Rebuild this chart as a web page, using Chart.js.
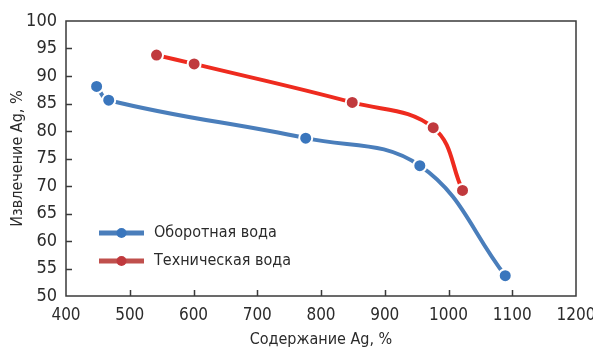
<!DOCTYPE html>
<html lang="ru">
<head>
<meta charset="UTF-8">
<title>Извлечение Ag</title>
<script src="https://cdn.jsdelivr.net/npm/chart.js"></script>
<style>
    html, body { margin: 0; padding: 0; background: #fff; }
    #wrap { width: 593px; height: 349px; }
</style>
</head>
<body>
<div id="wrap"><canvas id="chart"></canvas></div>
<script>
// Оборотная вода
const recycledX = [448, 467, 776, 955, 1089];
const recycledY = [88.1, 85.6, 78.7, 73.7, 53.7];
// Техническая вода
const processX = [542, 601, 849, 976, 1022];
const processY = [93.8, 92.2, 85.2, 80.6, 69.2];

const seriesNames = ['Оборотная вода', 'Техническая вода'];
const xTicks = [400, 500, 600, 700, 800, 900, 1000, 1100, 1200];
const yTicks = [50, 55, 60, 65, 70, 75, 80, 85, 90, 95, 100];

const FONT = '"DejaVu Sans Condensed", "Liberation Sans Narrow", "Roboto", sans-serif';
const TEXT = '#2b2b2b';

function pts(xs, ys) {
    return xs.map((x, i) => ({ x: x, y: ys[i] }));
}

// frame + inward ticks
const framePlugin = {
    id: 'frame',
    afterDraw(chart) {
        const ctx = chart.ctx, a = chart.chartArea;
        const xs = chart.scales.x, ys = chart.scales.y;
        ctx.save();
        ctx.strokeStyle = '#3a3a3a';
        ctx.lineWidth = 1.5;
        ctx.strokeRect(a.left, a.top, a.right - a.left, a.bottom - a.top);
        ctx.beginPath();
        xTicks.slice(1, -1).forEach(v => {
            const px = Math.round(xs.getPixelForValue(v)) + 0.5;
            ctx.moveTo(px, a.bottom);
            ctx.lineTo(px, a.bottom - 6);
        });
        yTicks.slice(1, -1).forEach(v => {
            const py = Math.round(ys.getPixelForValue(v)) + 0.5;
            ctx.moveTo(a.left, py);
            ctx.lineTo(a.left + 6, py);
        });
        ctx.stroke();
        ctx.restore();
    }
};

// legend inside the plot
const legendPlugin = {
    id: 'innerLegend',
    afterDraw(chart) {
        const ctx = chart.ctx, a = chart.chartArea;
        const colors = [['#4a7ebb', '#3a76bd'], ['#c0504d', '#c0393d']];
        ctx.save();
        seriesNames.forEach((name, i) => {
            const y = a.top + 212 + i * 28;
            const x0 = a.left + 33, x1 = a.left + 78;
            ctx.strokeStyle = colors[i][0];
            ctx.lineWidth = 5;
            ctx.beginPath();
            ctx.moveTo(x0, y);
            ctx.lineTo(x1, y);
            ctx.stroke();
            ctx.fillStyle = colors[i][1];
            ctx.beginPath();
            ctx.arc((x0 + x1) / 2, y, 5, 0, Math.PI * 2);
            ctx.fill();
            ctx.fillStyle = TEXT;
            ctx.font = '16px ' + FONT;
            ctx.textBaseline = 'middle';
            ctx.fillText(name, x1 + 10, y);
        });
        ctx.restore();
    }
};

new Chart(document.getElementById('chart'), {
    type: 'line',
    data: {
        datasets: [{
            label: seriesNames[0],
            data: pts(recycledX, recycledY),
            borderColor: '#4a7ebb',
            borderWidth: 4,
            backgroundColor: '#3a76bd',
            pointBackgroundColor: '#3a76bd',
            pointBorderColor: '#ffffff',
            pointBorderWidth: 2,
            pointRadius: 6.5,
            tension: 0.4
        }, {
            label: seriesNames[1],
            data: pts(processX, processY),
            borderColor: '#ee2b1f',
            borderWidth: 4,
            backgroundColor: '#c0393d',
            pointBackgroundColor: '#c0393d',
            pointBorderColor: '#ffffff',
            pointBorderWidth: 2,
            pointRadius: 6.5,
            tension: 0.4
        }]
    },
    options: {
        responsive: true,
        maintainAspectRatio: false,
        animation: false,
        layout: { padding: { top: 21, right: 17, left: 0, bottom: 0 } },
        plugins: {
            legend: { display: false },
            tooltip: { enabled: false }
        },
        scales: {
            x: {
                type: 'linear',
                min: 400, max: 1200,
                afterBuildTicks: s => { s.ticks = xTicks.map(v => ({ value: v })); },
                afterFit: s => { s.height = 53; s.paddingRight = 0; s.paddingLeft = 0; },
                grid: { display: false },
                border: { display: false },
                ticks: {
                    color: TEXT, font: { family: FONT, size: 17 }, padding: 1,
                    callback: v => String(v)
                },
                title: {
                    display: true, text: 'Содержание Ag, %', color: TEXT,
                    font: { family: FONT, size: 16 }, padding: { top: 2, bottom: 0 }
                }
            },
            y: {
                min: 50, max: 100,
                afterBuildTicks: s => { s.ticks = yTicks.map(v => ({ value: v })); },
                afterFit: s => { s.width = 66; },
                grid: { display: false },
                border: { display: false },
                ticks: { color: TEXT, font: { family: FONT, size: 18 }, padding: 1 },
                title: {
                    display: true, text: 'Извлечение Ag, %', color: TEXT,
                    font: { family: FONT, size: 16 }, padding: { top: 8, bottom: 2 }
                }
            }
        }
    },
    plugins: [framePlugin, legendPlugin]
});
</script>
</body>
</html>
